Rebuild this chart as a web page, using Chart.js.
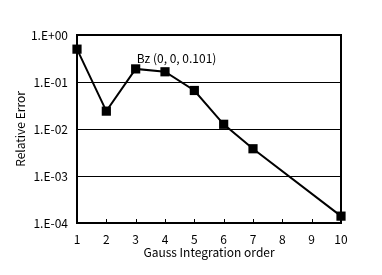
<!DOCTYPE html>
<html>
<head>
<meta charset="utf-8">
<script src="https://cdn.jsdelivr.net/npm/chart.js@4"></script>
<style>
  body { margin: 0; background: #fff; }
</style>
</head>
<body>
<canvas id="errChart" width="382" height="275"></canvas>
<script>
const orders = [1, 2, 3, 4, 5, 6, 7, 10];
const relErrors = [0.50, 0.024, 0.19, 0.165, 0.066, 0.0126, 0.0038, 0.00014];
const yTicks = [1e-4, 1e-3, 1e-2, 1e-1, 1];
const xTicks = [1, 2, 3, 4, 5, 6, 7, 8, 9, 10];
const noteText = "Bz (0, 0, 0.101)";

const FONT = "'Noto Sans CJK JP', 'DejaVu Sans', sans-serif";

const framePlugin = {
  id: "frame",
  beforeDatasetsDraw(chart) {
    const { ctx, chartArea: a, scales } = chart;
    ctx.save();
    // inside tick marks on the bottom axis
    ctx.strokeStyle = "#000";
    ctx.lineWidth = 1;
    xTicks.forEach(v => {
      const x = Math.round(scales.x.getPixelForValue(v)) + 0.5;
      ctx.beginPath();
      ctx.moveTo(x, a.bottom);
      ctx.lineTo(x, a.bottom - 4);
      ctx.stroke();
    });
    ctx.lineWidth = 2;
    ctx.strokeRect(a.left, a.top, a.right - a.left, a.bottom - a.top);
    // annotation
    ctx.fillStyle = "#000";
    ctx.font = "12px " + FONT;
    ctx.textBaseline = "middle";
    ctx.fillText(noteText, scales.x.getPixelForValue(3) + 1, scales.y.getPixelForValue(0.32));
    ctx.restore();
  }
};

new Chart(document.getElementById("errChart"), {
  type: "line",
  data: {
    datasets: [{
      data: orders.map((o, i) => ({ x: o, y: relErrors[i] })),
      borderColor: "#000",
      backgroundColor: "#000",
      borderWidth: 2,
      pointStyle: "rect",
      pointRadius: 6.5,
      pointBorderWidth: 0,
      tension: 0,
      clip: false
    }]
  },
  options: {
    responsive: false,
    animation: false,
    layout: { padding: { left: 0, right: 41, top: 35, bottom: 0 } },
    plugins: { legend: { display: false }, tooltip: { enabled: false } },
    scales: {
      x: {
        type: "linear",
        min: 1,
        max: 10,
        afterBuildTicks: s => { s.ticks = xTicks.map(v => ({ value: v })); },
        afterFit: s => { s.height = 52; },
        grid: { display: false, drawTicks: false },
        border: { display: false },
        ticks: { color: "#000", padding: 9, font: { family: FONT, size: 12 } },
        title: { display: true, text: "Gauss Integration order", color: "#000", padding: { top: 0, bottom: 15 }, font: { family: FONT, size: 12 } }
      },
      y: {
        type: "logarithmic",
        min: 1e-4,
        max: 1,
        afterBuildTicks: s => { s.ticks = yTicks.map(v => ({ value: v })); },
        afterFit: s => { s.width = 77; },
        grid: { color: "#000", lineWidth: 1, drawTicks: false },
        border: { display: false },
        ticks: {
          color: "#000",
          padding: 9,
          font: { family: FONT, size: 12 },
          callback: v => "1.E" + (Math.log10(v) < 0 ? "-" : "+") + String(Math.abs(Math.round(Math.log10(v)))).padStart(2, "0")
        },
        title: { display: true, text: "Relative Error", color: "#000", padding: { top: 13, bottom: 0 }, font: { family: FONT, size: 12 } }
      }
    }
  },
  plugins: [framePlugin]
});
</script>
</body>
</html>
